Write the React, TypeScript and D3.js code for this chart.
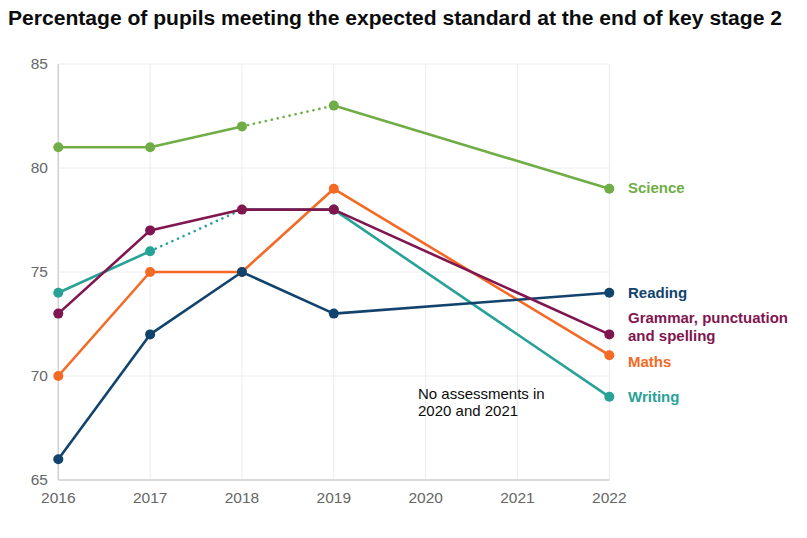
import React from "react";
import * as d3 from "d3";

const years = [2016, 2017, 2018, 2019, 2020, 2021, 2022];
const dataYears = [2016, 2017, 2018, 2019, 2022];
const yTicks = [65, 70, 75, 80, 85];

const science = [81, 81, 82, 83, 79];
const reading = [66, 72, 75, 73, 74];
const grammar = [73, 77, 78, 78, 72];
const maths = [70, 75, 75, 79, 71];
const writing = [74, 76, 78, 78, 69];

// index of segment start that is dotted (segment i -> i+1)
const scienceDotted = [2];
const writingDotted = [1];

type Series = {
  name: string[];
  values: number[];
  color: string;
  dotted: number[];
  labelY: number;
  markers: boolean[];
};

const series: Series[] = [
  { name: ["Writing"], values: writing, color: "#28A197", dotted: writingDotted, labelY: 69.0, markers: [true, true, false, true, true] },
  { name: ["Maths"], values: maths, color: "#F46A25", dotted: [], labelY: 70.7, markers: [true, true, true, true, true] },
  { name: ["Reading"], values: reading, color: "#12436D", dotted: [], labelY: 74.0, markers: [true, true, true, true, true] },
  { name: ["Grammar, punctuation", "and spelling"], values: grammar, color: "#801650", dotted: [], labelY: 72.4, markers: [true, true, true, true, true] },
  { name: ["Science"], values: science, color: "#70AD47", dotted: scienceDotted, labelY: 79.05, markers: [true, true, true, true, true] },
];

const W = 807;
const H = 538;

export default function App() {
  const x = d3.scaleLinear().domain([2016, 2022]).range([58.3, 609.3]);
  const y = d3.scaleLinear().domain([65, 85]).range([480, 64]);
  const font = "'Liberation Sans', Arial, sans-serif";

  return (
    <svg width={W} height={H} style={{ position: "absolute", left: 0, top: 0, background: "#fff" }} fontFamily={font}>
      <text x={8} y={25} fontSize={20} fontWeight="bold" fill="#0b0c0c" textLength={774} lengthAdjust="spacingAndGlyphs">
        Percentage of pupils meeting the expected standard at the end of key stage 2
      </text>
      {yTicks.map((t) => (
        <line key={"h" + t} x1={x(2016)} x2={x(2022)} y1={y(t)} y2={y(t)} stroke="#ececec" strokeWidth={1} />
      ))}
      {years.map((yr) => (
        <line key={"v" + yr} x1={x(yr)} x2={x(yr)} y1={y(85)} y2={y(65)} stroke="#ececec" strokeWidth={1} />
      ))}
      <line x1={x(2016)} x2={x(2016)} y1={y(85)} y2={y(65)} stroke="#d0d0d0" strokeWidth={1.5} />
      <line x1={x(2016)} x2={x(2022)} y1={y(65)} y2={y(65)} stroke="#d0d0d0" strokeWidth={1.5} />
      {yTicks.map((t) => (
        <text key={"yt" + t} x={48} y={y(t)} dy="0.35em" textAnchor="end" fontSize={15.5} fill="#666">
          {t}
        </text>
      ))}
      {years.map((yr) => (
        <text key={"xt" + yr} x={x(yr)} y={503} textAnchor="middle" fontSize={15.5} fill="#666">
          {yr}
        </text>
      ))}
      {series.map((s) => (
        <g key={s.name[0]}>
          {s.values.slice(0, -1).map((v, i) => {
            const dotted = s.dotted.includes(i);
            return (
              <line
                key={i}
                x1={x(dataYears[i])}
                y1={y(v)}
                x2={x(dataYears[i + 1])}
                y2={y(s.values[i + 1])}
                stroke={s.color}
                strokeWidth={2.6}
                strokeDasharray={dotted ? "0.1 6" : undefined}
                strokeLinecap={dotted ? "round" : "butt"}
              />
            );
          })}
        </g>
      ))}
      {series.map((s) => (
        <g key={"m" + s.name[0]}>
          {s.values.map((v, i) =>
            s.markers[i] ? <circle key={i} cx={x(dataYears[i])} cy={y(v)} r={5} fill={s.color} /> : null
          )}
        </g>
      ))}
      {series.map((s) => (
        <text key={"l" + s.name[0]} x={628} y={y(s.labelY)} fontSize={15} fontWeight="bold" fill={s.color}>
          {s.name.map((n, i) => (
            <tspan key={i} x={628} dy={i === 0 ? (s.name.length > 1 ? "-0.2em" : "0.35em") : "1.2em"}>
              {n}
            </tspan>
          ))}
        </text>
      ))}
      <text x={418} y={399} fontSize={15} fill="#0b0c0c">No assessments in</text>
      <text x={418} y={416} fontSize={15} fill="#0b0c0c">2020 and 2021</text>
    </svg>
  );
}
